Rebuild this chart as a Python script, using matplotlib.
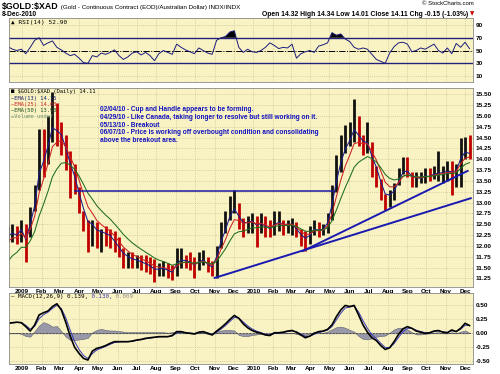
import matplotlib
matplotlib.use('Agg')
import matplotlib.pyplot as plt
import matplotlib.dates as mdates
from matplotlib.text import Annotation
import numpy as np
import pandas as pd

# ---------------- data (weekly readings, Wed of each week) ----------------
week_dates = pd.date_range('2008-12-10', '2010-12-08', freq='W-WED')

high = [12.45, 12.5, 12.45, 12.6, 12.5, 12.9, 13.4, 14.7, 14.7, 15.0,
        15.55, 15.3, 14.85, 14.55, 14.2, 13.9, 13.35, 12.8, 12.6, 12.6,
        12.55, 12.4, 12.45, 12.4, 12.35, 12.2, 11.95, 11.85, 11.85, 11.8,
        11.8, 11.8, 11.75, 11.7, 11.6, 11.65, 11.6, 11.55, 11.95, 11.95,
        11.8, 11.85, 11.75, 11.85, 11.9, 11.75, 11.65, 12.0, 12.55, 12.8,
        13.15, 13.3, 13.0, 12.65, 12.7, 12.75, 12.7, 12.75, 12.7, 12.6,
        12.8, 12.8, 12.6, 12.6, 12.65, 12.55, 12.4, 12.35, 12.45, 12.6,
        12.55, 12.5, 12.75, 13.4, 14.1, 14.55, 14.8, 14.85, 15.4, 15.0,
        14.55, 14.85, 14.4, 13.85, 13.55, 13.2, 13.3, 13.45, 13.8, 14.05,
        14.05, 13.7, 13.7, 13.7, 13.8, 13.8, 13.85, 14.2, 13.85, 13.95,
        13.95, 13.9, 14.5, 14.52, 14.55]
low = [12.1, 12.1, 12.05, 12.1, 11.63, 12.2, 12.8, 13.3, 13.6, 13.9,
       14.4, 14.3, 14.1, 13.75, 13.1, 13.2, 12.75, 12.35, 11.85, 12.0,
       11.95, 11.85, 12.0, 11.95, 11.85, 11.75, 11.5, 11.5, 11.5, 11.5,
       11.45, 11.4, 11.35, 11.17, 11.3, 11.3, 11.25, 11.22, 11.3, 11.5,
       11.5, 11.45, 11.25, 11.45, 11.55, 11.4, 11.3, 11.26, 11.95, 12.3,
       12.6, 12.75, 12.4, 12.2, 12.3, 12.3, 11.97, 12.3, 12.2, 12.2,
       12.25, 12.35, 12.25, 12.3, 12.25, 12.2, 12.0, 11.88, 12.05, 12.25,
       12.2, 12.25, 12.3, 12.6, 13.25, 13.7, 14.15, 14.3, 14.4, 14.3,
       14.1, 14.15, 13.6, 13.35, 13.05, 12.83, 12.9, 13.05, 13.4, 13.65,
       13.6, 13.35, 13.36, 13.45, 13.45, 13.5, 13.55, 13.5, 13.45, 13.5,
       13.17, 13.35, 13.35, 14.0, 14.0]
close = [12.3, 12.35, 12.2, 12.5, 11.95, 12.8, 13.3, 14.3, 14.2, 14.6,
         15.1, 14.6, 14.5, 14.0, 13.6, 13.35, 12.9, 12.55, 12.3, 12.45,
         12.25, 12.3, 12.25, 12.2, 12.0, 11.85, 11.7, 11.7, 11.65, 11.65,
         11.6, 11.55, 11.5, 11.4, 11.45, 11.5, 11.4, 11.35, 11.75, 11.75,
         11.65, 11.6, 11.5, 11.7, 11.7, 11.5, 11.45, 11.95, 12.4, 12.6,
         12.95, 13.0, 12.55, 12.4, 12.55, 12.6, 12.4, 12.55, 12.4, 12.35,
         12.55, 12.6, 12.45, 12.5, 12.5, 12.3, 12.15, 12.1, 12.3, 12.5,
         12.35, 12.4, 12.65, 13.3, 13.95, 14.3, 14.5, 14.6, 14.9, 14.45,
         14.3, 14.35, 13.8, 13.6, 13.2, 12.95, 13.15, 13.35, 13.65, 13.9,
         13.75, 13.5, 13.55, 13.55, 13.65, 13.6, 13.7, 13.7, 13.7, 13.75,
         13.7, 13.75, 14.25, 14.3, 14.11]
rsi = [56, 52, 50, 52, 45, 55, 66, 70, 58, 62,
       65, 55, 51, 46, 42, 44, 38, 31, 30, 42,
       40, 46, 44, 47, 51, 42, 36, 40, 46, 48,
       43, 47, 42, 34, 45, 50, 47, 44, 60, 55,
       51, 48, 45, 54, 50, 46, 44, 66, 70, 72,
       79, 81, 55, 47, 52, 48, 47, 50, 55, 62,
       58, 53, 55, 54, 60, 38, 45, 48, 50, 47,
       57, 59, 62, 78, 74, 76, 68, 64, 55, 52,
       54, 52, 44, 36, 33, 30, 46, 56, 62, 63,
       60, 48, 50, 54, 52, 56, 60, 50, 46, 54,
       45, 61, 55, 63, 52.9]
macd = [0.18, 0.19, 0.20, 0.19, 0.12, 0.04, 0.15, 0.33, 0.37, 0.40,
        0.48, 0.53, 0.42, 0.20, -0.05, -0.25, -0.36, -0.45, -0.48, -0.32,
        -0.27, -0.25, -0.22, -0.18, -0.15, -0.15, -0.15, -0.15, -0.14, -0.12,
        -0.11, -0.09, -0.08, -0.07, -0.06, -0.06, -0.06, -0.04, 0.03, 0.03,
        0.01, 0.0, -0.01, 0.02, 0.03, 0.0, -0.03, 0.04, 0.10, 0.17,
        0.25, 0.32, 0.27, 0.17, 0.10, 0.05, 0.02, 0.0, -0.03, -0.04,
        0.01, 0.01, 0.02, 0.04, 0.05, 0.02, -0.03, -0.08, -0.05, 0.0,
        0.03, 0.04, 0.07, 0.15, 0.30, 0.42, 0.50, 0.48, 0.50, 0.33,
        0.15, 0.02, -0.08, -0.13, -0.22, -0.29, -0.26, -0.15, -0.02, 0.08,
        0.12, 0.09, 0.04, 0.02, 0.0, 0.01, 0.04, 0.05, 0.02, 0.01,
        0.06, 0.03, 0.09, 0.18, 0.139]
macd_hist = [0.0, 0.0, 0.01, -0.01, -0.05, -0.06, 0.04, 0.14, 0.20, 0.17,
             0.12, 0.13, 0.04, -0.06, -0.12, -0.12, -0.11, -0.10, -0.08, 0.02,
             0.06, 0.08, 0.06, 0.05, 0.05, 0.04, 0.03, 0.02, 0.02, 0.02,
             0.02, 0.02, 0.02, 0.02, 0.02, 0.02, 0.01, 0.02, 0.04, 0.03,
             0.01, 0.0, -0.01, 0.01, 0.01, -0.01, -0.02, 0.03, 0.05, 0.06,
             0.06, 0.05, -0.03, -0.05, -0.05, -0.03, -0.02, -0.01, -0.02, -0.01,
             0.02, 0.01, 0.01, 0.01, 0.01, -0.01, -0.03, -0.04, 0.0, 0.02,
             0.02, 0.01, 0.03, 0.07, 0.11, 0.12, 0.10, 0.06, 0.03, -0.05,
             -0.10, -0.11, -0.09, -0.06, -0.05, -0.04, 0.01, 0.07, 0.10, 0.10,
             0.07, 0.02, -0.02, -0.02, -0.01, 0.0, 0.01, 0.02, 0.0, 0.0,
             0.02, 0.0, 0.03, 0.05, 0.009]

ema_periods = [13, 25, 50]
ema_seeds = [12.15, 12.0, 11.5]
ema_colors = ['#1c1c8c', '#cc2222', '#1e6e1e']

# annotation lines (dates, prices)
hline_dates = ['2009-03-25', '2010-05-07']
hline_price = 13.27
trend_a_dates = ['2009-11-01', '2010-12-10']
trend_a_prices = [11.26, 13.10]
trend_b_dates = ['2010-03-20', '2010-12-05']
trend_b_prices = [11.88, 13.73]

notes = ["02/04/10 - Cup and Handle appears to be forming.",
         "04/29/10 - Like Canada, taking longer to resolve but still working on it.",
         "05/13/10 - Breakout",
         "06/07/10 - Price is working off overbought condition and consolidating",
         "above the breakout area."]

# ---------------- derived series ----------------
close_a = np.array(close)
emas = []
for n, seed in zip(ema_periods, ema_seeds):
    a = 1 - (1 - 2.0 / (n + 1)) ** 5
    out = []
    prev = seed
    for c in close_a:
        prev = prev + a * (c - prev)
        out.append(prev)
    emas.append(np.array(out))

macd_a = np.array(macd)
a9 = 1 - (1 - 2.0 / 10) ** 5
sig = []
prev = macd_a[0]
for v in macd_a:
    prev = prev + a9 * (v - prev)
    sig.append(prev)
sig = np.array(sig)
hist = np.array(macd_hist)
rsi_a = np.array(rsi, dtype=float)

# ---------------- style ----------------
plt.rcParams['font.family'] = ['Liberation Sans', 'DejaVu Sans']
BG = '#f9f3c4'
GRID = '#cdc69a'
x = mdates.date2num(week_dates)
xl = (mdates.date2num(pd.Timestamp('2008-12-11 12:00')),
      mdates.date2num(pd.Timestamp('2010-12-13 12:00')))
months = pd.date_range('2009-01-01', '2010-12-01', freq='MS')
mx = mdates.date2num(months)
mlabels = [str(m.year) if m.month == 1 else m.strftime('%b') for m in months]

fig = plt.figure(figsize=(5, 3.74), dpi=100)
fig.patch.set_facecolor('white')
L, W = 9 / 500, 464 / 500
ax_r = fig.add_axes([L, 1 - 82.4 / 374, W, 64.1 / 374])
ax_p = fig.add_axes([L, 1 - 287 / 374, W, 199 / 374])
ax_m = fig.add_axes([L, 1 - 364 / 374, W, 71 / 374])

for ax in (ax_r, ax_p, ax_m):
    ax.set_facecolor(BG)
    ax.set_xlim(*xl)
    for s in ax.spines.values():
        s.set_color('#8a8a8a')
        s.set_linewidth(0.6)
    ax.yaxis.tick_right()
    ax.tick_params(length=0, labelsize=4.6, pad=2)
    ax.set_xticks(mx)
    ax.grid(True, color=GRID, lw=0.5, ls=(0, (1.5, 1.5)))
    ax.set_axisbelow(True)

for ax in (ax_p, ax_m):
    ax.set_xticklabels(mlabels, fontsize=4.6, fontweight='bold')
    ax.tick_params(axis='x', pad=1.5)
ax_r.set_xticklabels([])

# ---------------- RSI ----------------
ax_r.set_ylim(0, 100.5)
ax_r.set_yticks([10, 30, 50, 70, 90])
ax_r.set_yticklabels(['10', '30', '50', '70', '90'], fontsize=4.6, fontweight='bold')
ax_r.axhline(70, color='#22227a', lw=1.0)
ax_r.axhline(30, color='#22227a', lw=1.0)
ax_r.axhline(50, color='black', lw=0.7, ls='-.')
ax_r.fill_between(x, 70, rsi_a, where=rsi_a > 70, interpolate=True, color='black', lw=0)
ax_r.plot(x, rsi_a, color='#1c1c7c', lw=0.7)
mono = ['DejaVu Sans Mono']
ax_r.text(0.004, 0.97, '\u25b2 RSI(14) 52.90', transform=ax_r.transAxes, fontsize=4.4,
          va='top', ha='left', family=mono)

# ---------------- Price ----------------
ax_p.set_ylim(11.05, 15.645)
pt = np.arange(11.25, 15.51, 0.25)
ax_p.set_yticks(pt)
ax_p.set_yticklabels(['%.2f' % v for v in pt], fontsize=4.6, fontweight='bold')
prev_c = np.concatenate([[close_a[0]], close_a[:-1]])
cols = np.where(close_a >= prev_c, '#111111', '#c00000')
ax_p.vlines(x, low, high, colors=cols, lw=2.0)
for e, c in zip(emas, ema_colors):
    ax_p.plot(x, e, color=c, lw=0.75)

hd = mdates.date2num(pd.to_datetime(hline_dates))
ax_p.plot(hd, [hline_price, hline_price], color='#1a1aa0', lw=1.1)
ta = mdates.date2num(pd.to_datetime(trend_a_dates))
ax_p.plot(ta, trend_a_prices, color='#1a1ab0', lw=1.4)
tb = mdates.date2num(pd.to_datetime(trend_b_dates))
ax_p.plot(tb, trend_b_prices, color='#1a1ab0', lw=1.4)

ax_p.text(0.004, 0.995, '\u25a0 \\$GOLD:\\$XAD (Daily) 14.11', transform=ax_p.transAxes,
          fontsize=4.0, va='top', family=mono, zorder=20)
leg = [('\u2014EMA(13) 14.15', '#1c1c6c'), ('\u2014EMA(25) 14.03', '#cc2222'),
       ('\u2014EMA(50) 13.90', '#1e4e1e'), ('\u2248Volume undef', '#6e8e6e')]
for i, (t, c) in enumerate(leg):
    ax_p.text(0.004, 0.962 - i * 0.031, t, transform=ax_p.transAxes, fontsize=3.9,
              va='top', color=c, family=mono, zorder=20)

for i, t in enumerate(notes):
    ax_p.text(0.196, 0.892 - i * 0.0393, t, transform=ax_p.transAxes, fontsize=4.7,
              va='center', ha='left', color='#1010c0', fontweight='bold', zorder=20)

# ---------------- MACD ----------------
ax_m.set_ylim(-0.551, 0.7235)
mt = [-0.5, -0.25, 0.0, 0.25, 0.5]
ax_m.set_yticks(mt)
ax_m.set_yticklabels(['-0.50', '-0.25', '0.00', '0.25', '0.50'], fontsize=4.6, fontweight='bold')
ax_m.fill_between(x, 0, hist, color='#9898a8', lw=0.4, edgecolor='#606070')
ax_m.axhline(0, color='#444444', lw=0.6, ls=(0, (2, 2)))
ax_m.plot(x, sig, color='#3838b8', lw=0.7)
ax_m.plot(x, macd_a, color='black', lw=1.2)
t1 = ax_m.text(0.004, 0.98, '\u2014 MACD(12,26,9) 0.139,', transform=ax_m.transAxes,
               fontsize=4.2, va='top', family=mono)
t2 = ax_m.annotate(' 0.130,', xycoords=t1, xy=(1, 0), va='bottom', fontsize=4.2,
                   color='#3838b8', family=mono)
ax_m.annotate(' 0.009', xycoords=t2, xy=(1, 0), va='bottom', fontsize=4.2,
              color='#909090', family=mono)

# ---------------- header ----------------
h1 = fig.text(2 / 500, 1 - 2 / 374, '\\$GOLD:\\$XAD', fontsize=6.3, fontweight='bold',
              va='top')
fig.add_artist(Annotation(
    ' (Gold - Continuous Contract (EOD)/Australian Dollar) INDX/INDX',
    xy=(1, 0.12), xycoords=h1, va='bottom', ha='left', fontsize=4.5))
fig.text(2 / 500, 1 - 11.5 / 374, '8-Dec-2010', fontsize=4.8, fontweight='bold', va='top')
fig.text(474 / 500, 1 - 1 / 374, '\u00a9 StockCharts.com', fontsize=4.3, va='top', ha='right')
fig.text(468 / 500, 1 - 10.5 / 374,
         'Open 14.32 High 14.34 Low 14.01 Close 14.11 Chg -0.15 (-1.03%)',
         fontsize=4.9, fontweight='bold', va='top', ha='right')
fig.text(474 / 500, 1 - 11 / 374, '\u25bc', fontsize=4.0, color='#cc0000', va='top',
         ha='right', family=['DejaVu Sans'])

fig.savefig('out.png', dpi=100, facecolor='white')
